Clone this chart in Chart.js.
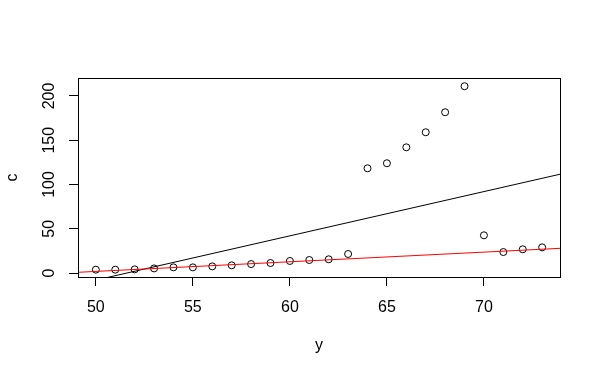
<!DOCTYPE html>
<html>
<head>
<meta charset="utf-8">
<script src="https://cdn.jsdelivr.net/npm/chart.js@4/dist/chart.umd.min.js"></script>
<style>
    html, body { margin: 0; padding: 0; background: #fff; }
    #wrap { width: 601px; height: 375px; }
</style>
</head>
<body>
<div id="wrap"><canvas id="chart"></canvas></div>
<script>
// data
const yValues = [50, 51, 52, 53, 54, 55, 56, 57, 58, 59, 60, 61,
                 62, 63, 64, 65, 66, 67, 68, 69, 70, 71, 72, 73];
const cValues = [3.8, 3.8, 4.1, 5.2, 6.4, 6.4, 7.5, 8.7, 10.1, 11.3, 13.6, 14.7,
                 15.5, 21.5, 118.3, 124, 142, 159, 181.6, 211, 42.6, 23.7, 26.8, 29];
const xTicks = [50, 55, 60, 65, 70];
const yTicks = [0, 50, 100, 150, 200];
// fitted lines: intercept, slope
const blackLine = [-258, 5.0];
const redLine = [-52.7, 1.09];

const xMin = 49.08, xMax = 73.92;
const yMin = -4.5, yMax = 220.3;

const points = yValues.map((v, i) => ({ x: v, y: cValues[i] }));
function lineData(coef) {
    return [xMin, xMax].map(x => ({ x: x, y: coef[0] + coef[1] * x }));
}

const FONT = "16px 'Liberation Sans', Arial, sans-serif";

// box, rotated y labels and axis titles like base R
const rPlot = {
    id: "rPlot",
    afterDraw(chart) {
        const ctx = chart.ctx;
        const a = chart.chartArea;
        const ys = chart.scales.y;
        ctx.save();
        ctx.strokeStyle = "#000";
        ctx.lineWidth = 1;
        ctx.strokeRect(Math.round(a.left) + 0.5, Math.round(a.top) + 0.5,
            Math.round(a.right - a.left), Math.round(a.bottom - a.top));
        ctx.fillStyle = "#000";
        ctx.font = FONT;
        ctx.textAlign = "center";
        ctx.textBaseline = "middle";
        yTicks.forEach(t => {
            const py = ys.getPixelForValue(t);
            ctx.save();
            ctx.translate(50, py);
            ctx.rotate(-Math.PI / 2);
            ctx.fillText(String(t), 0, 0);
            ctx.restore();
        });
        ctx.save();
        ctx.translate(13, (a.top + a.bottom) / 2);
        ctx.rotate(-Math.PI / 2);
        ctx.fillText("c", 0, 0);
        ctx.restore();
        ctx.fillText("y", (a.left + a.right) / 2, 346);
        ctx.restore();
    }
};

new Chart(document.getElementById("chart"), {
    type: "scatter",
    data: {
        datasets: [
            {
                type: "line",
                data: lineData(redLine),
                borderColor: "#ff0000",
                borderWidth: 1,
                pointRadius: 0,
                fill: false
            },
            {
                type: "line",
                data: lineData(blackLine),
                borderColor: "#000",
                borderWidth: 1,
                pointRadius: 0,
                fill: false
            },
            {
                data: points,
                pointStyle: "circle",
                pointRadius: 3.5,
                pointBorderWidth: 1,
                pointBorderColor: "#000",
                pointBackgroundColor: "rgba(0,0,0,0)"
            }
        ]
    },
    options: {
        responsive: true,
        maintainAspectRatio: false,
        animation: false,
        events: [],
        layout: { padding: { top: 78, right: 41, left: 0, bottom: 0 } },
        plugins: { legend: { display: false }, tooltip: { enabled: false } },
        scales: {
            x: {
                type: "linear",
                min: xMin,
                max: xMax,
                afterBuildTicks: s => { s.ticks = xTicks.map(v => ({ value: v })); },
                afterFit: s => { s.height = 98; },
                border: { display: false },
                grid: { drawOnChartArea: false, drawTicks: true, tickLength: 9, color: "#000" },
                ticks: { color: "#000", font: { family: "'Liberation Sans', Arial, sans-serif", size: 16 }, padding: 12, maxRotation: 0 }
            },
            y: {
                type: "linear",
                min: yMin,
                max: yMax,
                afterBuildTicks: s => { s.ticks = yTicks.map(v => ({ value: v })); },
                afterFit: s => { s.width = 78; },
                border: { display: false },
                grid: { drawOnChartArea: false, drawTicks: true, tickLength: 9, color: "#000" },
                ticks: { display: false }
            }
        }
    },
    plugins: [rPlot]
});
</script>
</body>
</html>
